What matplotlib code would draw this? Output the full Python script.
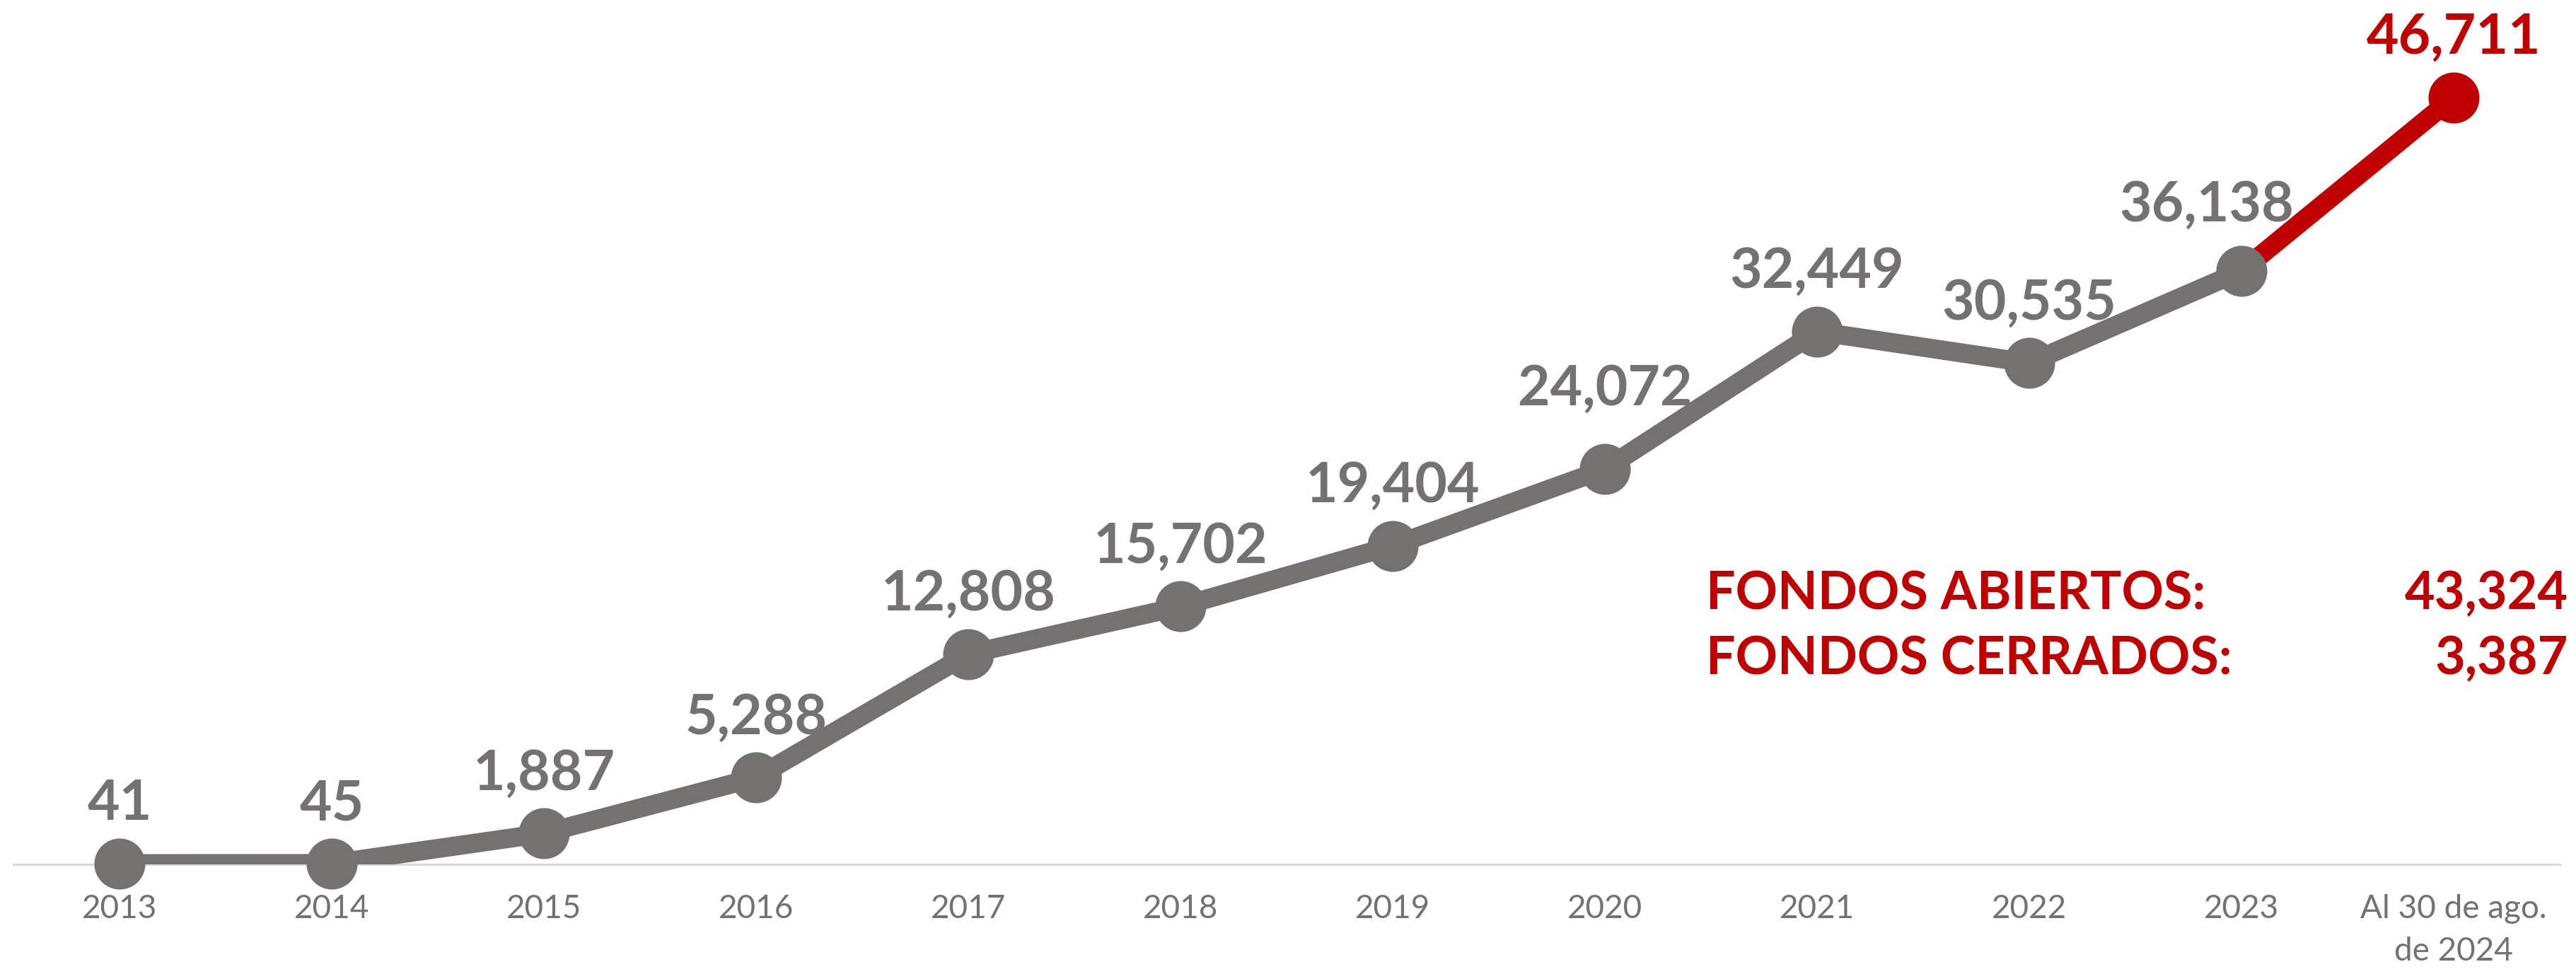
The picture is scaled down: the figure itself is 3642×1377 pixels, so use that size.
import matplotlib
matplotlib.use("Agg")
import matplotlib.pyplot as plt

# ---- data ----
categories = ["2013", "2014", "2015", "2016", "2017", "2018", "2019", "2020",
              "2021", "2022", "2023", "Al 30 de ago.\nde 2024"]
values = [41, 45, 1887, 5288, 12808, 15702, 19404, 24072, 32449, 30535, 36138, 46711]
label_texts = ["41", "45", "1,887", "5,288", "12,808", "15,702", "19,404", "24,072",
               "32,449", "30,535", "36,138", "46,711"]
side_labels = ["FONDOS ABIERTOS:", "FONDOS CERRADOS:"]
side_values = ["43,324", "3,387"]

GRAY = "#767171"
RED = "#C00000"
FONT = "Lato"

W, H, DPI = 3642, 1377, 300
fig = plt.figure(figsize=(W / DPI, H / DPI), dpi=DPI)
ax = fig.add_axes([19 / W, 155 / H, 3600 / W, 1184 / H])

x = list(range(len(values)))
# red segment (last period)
ax.plot(x[-2:], values[-2:], color=RED, lw=6.5, solid_capstyle="butt", zorder=2)
# gray series
ax.plot(x[:-1], values[:-1], color=GRAY, lw=6.5, solid_joinstyle="round", zorder=3)
ax.plot(x[:-1], values[:-1], ls="none", marker="o", ms=16.3, color=GRAY,
        clip_on=False, zorder=4)
ax.plot(x[-1:], values[-1:], ls="none", marker="o", ms=16.3, color=RED,
        clip_on=False, zorder=4)

ax.set_xlim(-0.5, len(values) - 0.5)
ax.set_ylim(0, 51000)

# data labels (manual nudges as in the original)
offsets = {7: (0, 21.8), 10: (-11.8, 16.8)}  # points
for i, (v, t) in enumerate(zip(values, label_texts)):
    c = RED if i == len(values) - 1 else GRAY
    dx, dy = offsets.get(i, (0, 14.8))
    ax.annotate(t, (i, v), xytext=(dx, dy), textcoords="offset points",
                ha="center", va="baseline", fontsize=18.9, fontweight="bold",
                color=c, family=FONT, annotation_clip=False, zorder=5)

# axes styling
for s in ["left", "right", "top"]:
    ax.spines[s].set_visible(False)
ax.spines["bottom"].set_color("#D9D9D9")
ax.spines["bottom"].set_linewidth(0.75)
ax.spines["bottom"].set_zorder(1)
ax.set_yticks([])
ax.set_xticks(x)
ax.set_xticklabels(categories, fontsize=11, color=GRAY, family=FONT,
                   linespacing=1.55, ha="center")
ax.tick_params(axis="x", length=0, pad=10)
ax.patch.set_alpha(0)

# side annotation
for k, (lab, val) in enumerate(zip(side_labels, side_values)):
    yb = 1 - (861 + 92 * k) / H
    fig.text(2412 / W, yb, lab, ha="left", va="baseline", fontsize=17.7,
             fontweight="bold", color=RED, family=FONT)
    fig.text(3631 / W, yb, val, ha="right", va="baseline", fontsize=17.7,
             fontweight="bold", color=RED, family=FONT)

fig.savefig("out.png", dpi=DPI, facecolor="white")
